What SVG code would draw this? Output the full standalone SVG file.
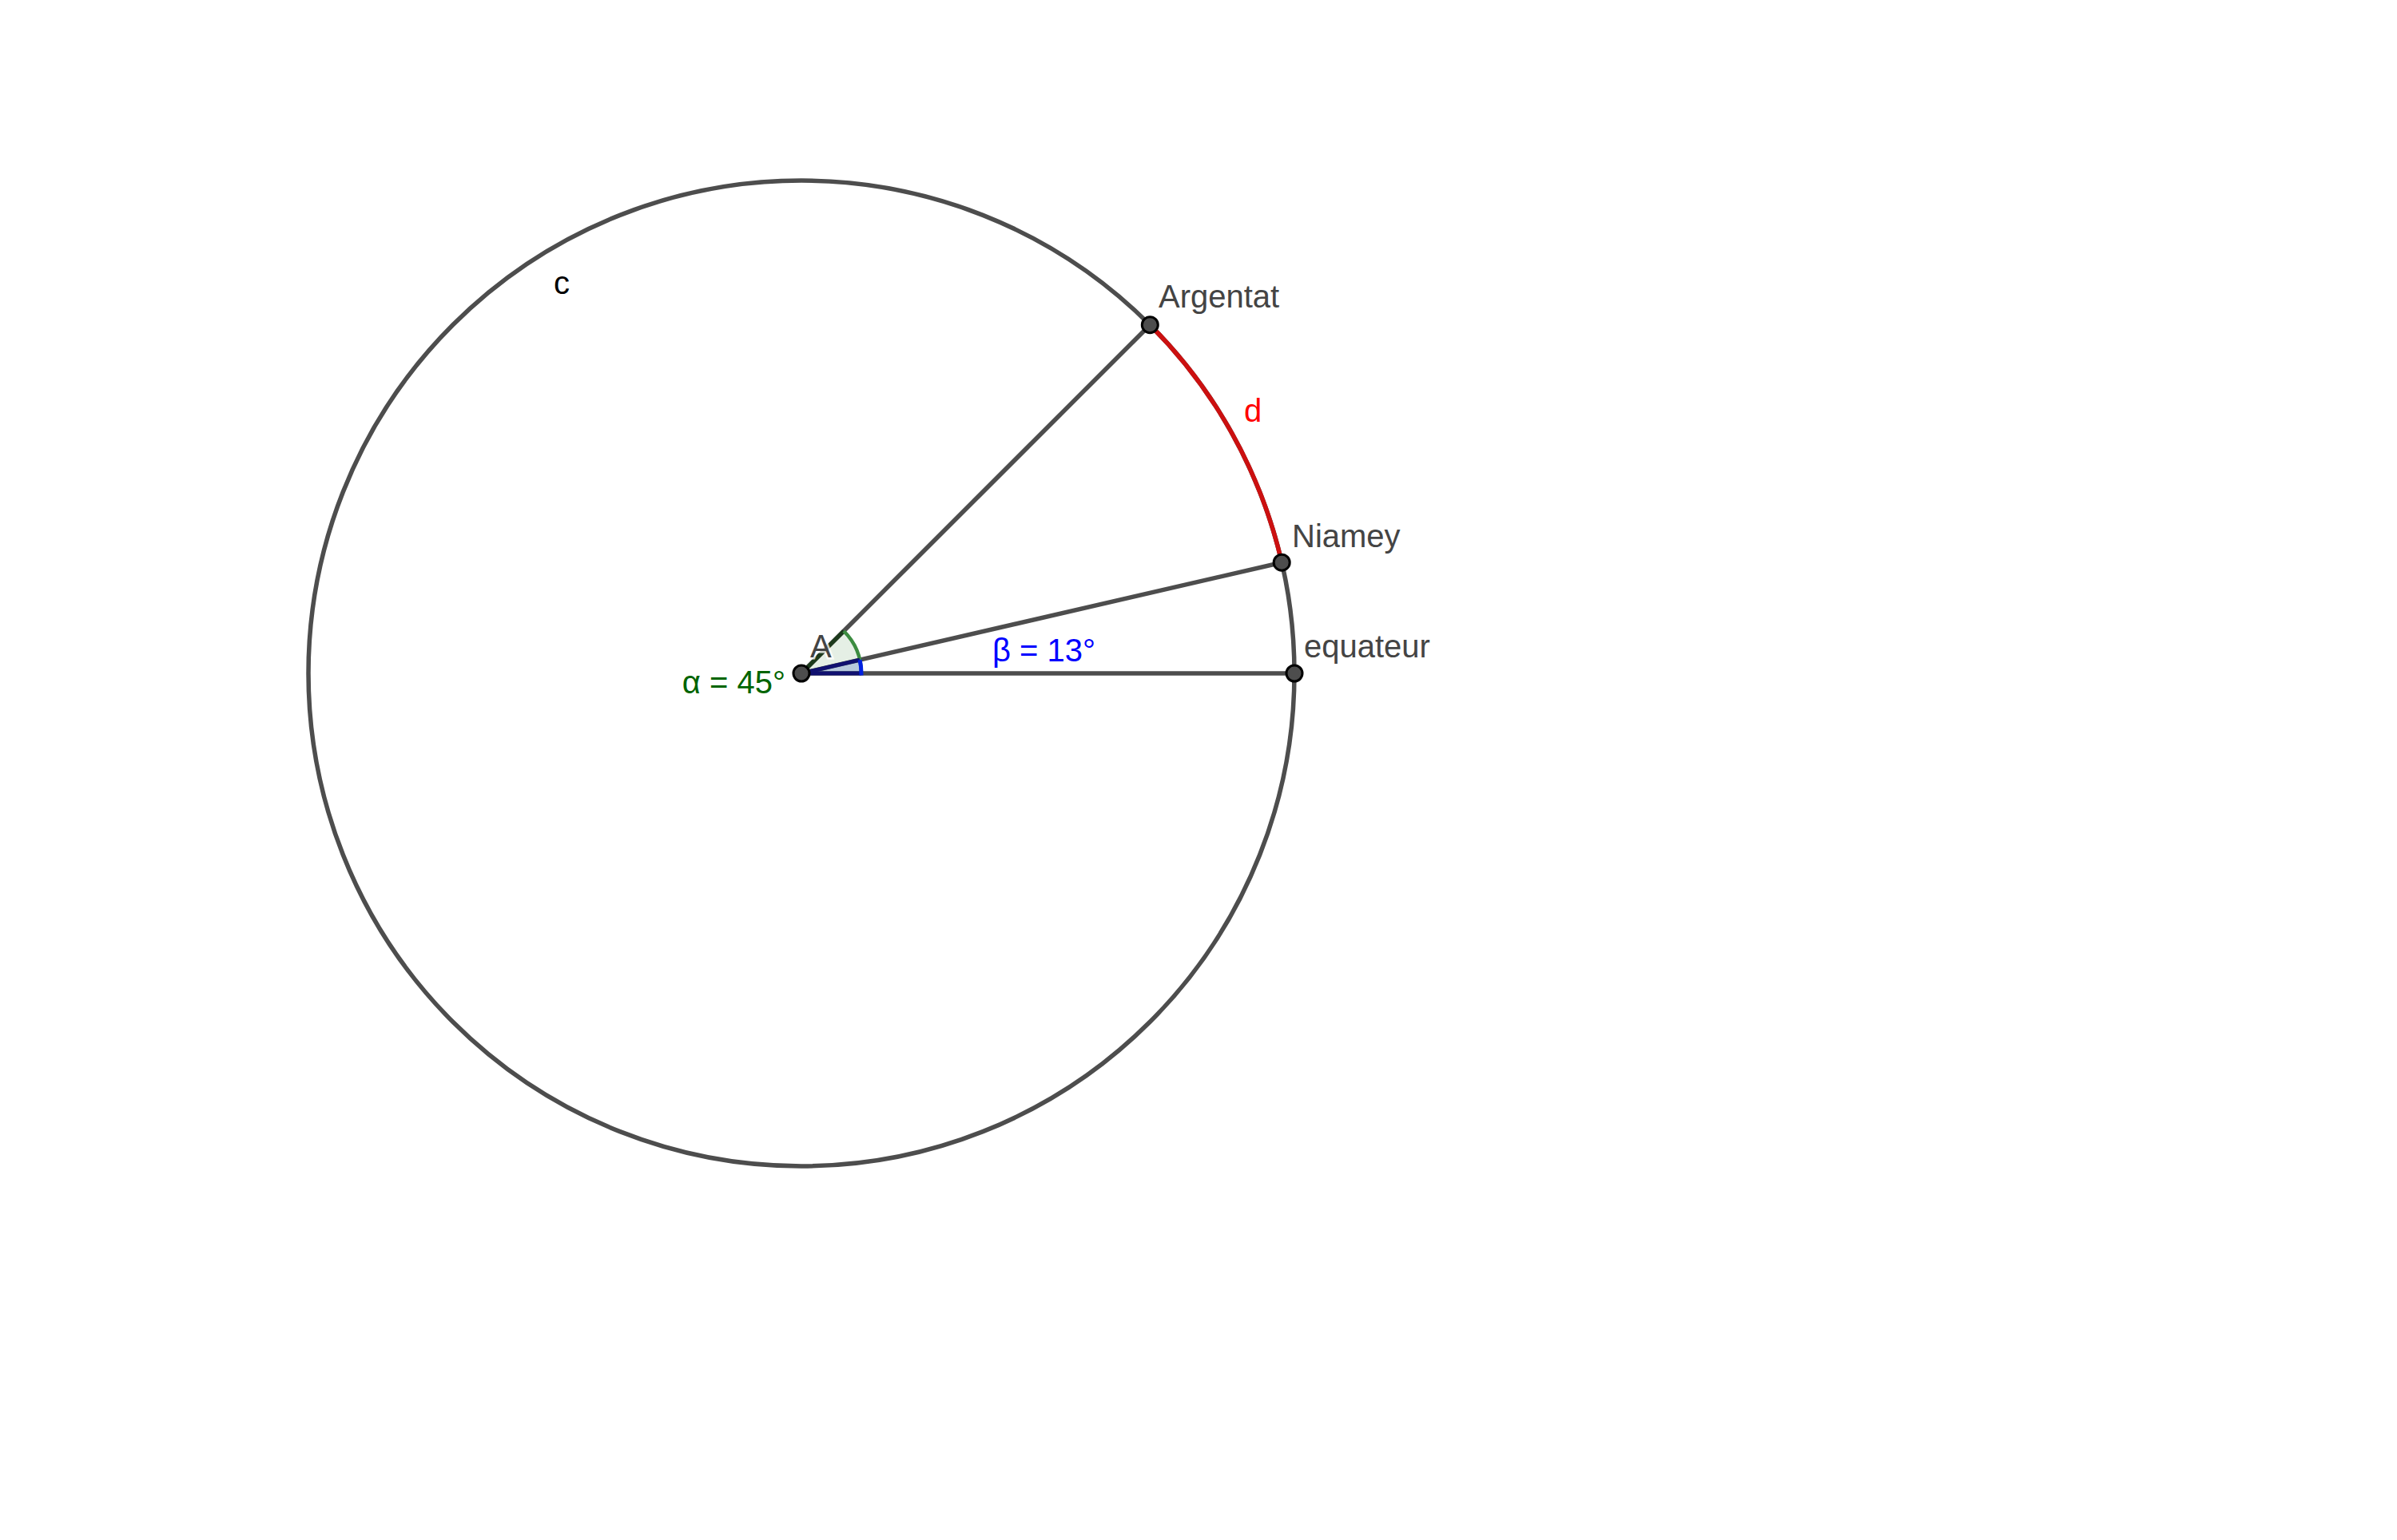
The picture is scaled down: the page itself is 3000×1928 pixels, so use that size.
<svg xmlns="http://www.w3.org/2000/svg" width="3000" height="1928" viewBox="0 0 3000 1928">
  <style>
    .ln { fill: none; stroke: #4d4d4d; stroke-width: 5.5; }
    .pt { fill: #4d4d4d; stroke: #000; stroke-width: 3; }
    .lbl { font-family: "Liberation Sans", Arial, sans-serif; font-size: 40px; fill: #444; }
  </style>
  <rect x="0" y="0" width="3000" height="1928" fill="#fff"/>

  <g id="circle-c">
    <circle class="ln" cx="1003" cy="843" r="617"/>
    <text class="lbl" x="693" y="368" style="fill:#000">c</text>
  </g>

  <g id="arc-d">
    <path d="M 1439.3 406.7 A 617 617 0 0 1 1604.2 704.2" fill="none" stroke="#cc1010" stroke-width="5.5"/>
    <text class="lbl" x="1557" y="528" style="fill:#ff0000">d</text>
  </g>

  <g id="connectors">
    <line class="ln" x1="1003" y1="843" x2="1439.3" y2="406.7"/>
    <line class="ln" x1="1003" y1="843" x2="1604.2" y2="704.2"/>
    <line class="ln" x1="1003" y1="843" x2="1620" y2="843"/>
  </g>

  <g id="angle-alpha">
    <path d="M 1003 843 L 1078 843 A 75 75 0 0 0 1056.03 789.97 Z" fill="#006400" fill-opacity="0.1" stroke="none"/>
    <line x1="1003" y1="843" x2="1056.03" y2="789.97" stroke="#1c3a1c" stroke-width="5"/>
    <path d="M 1078 843 A 75 75 0 0 0 1056.03 789.97" fill="none" stroke="#3c8c40" stroke-width="4.5"/>
    <text class="lbl" x="983" y="868" text-anchor="end" style="fill:#006400">α = 45°</text>
  </g>

  <g id="angle-beta">
    <path d="M 1003 843 L 1078 843 A 75 75 0 0 0 1076.08 826.13 Z" fill="#0030c0" fill-opacity="0.2" stroke="none"/>
    <line x1="1003" y1="843" x2="1078" y2="843" stroke="#101070" stroke-width="5"/>
    <line x1="1003" y1="843" x2="1076.08" y2="826.13" stroke="#101070" stroke-width="5"/>
    <path d="M 1078 845.5 L 1078 843 A 75 75 0 0 0 1076.08 826.13" fill="none" stroke="#0020e0" stroke-width="5"/>
    <text class="lbl" x="1242" y="828" style="fill:#0000ff">β = 13°</text>
  </g>

  <g id="point-A">
    <circle class="pt" cx="1003" cy="843" r="10"/>
    <text class="lbl" x="1014" y="823" stroke="#ffffff" stroke-width="5" stroke-opacity="0.8" paint-order="stroke">A</text>
  </g>

  <g id="point-Argentat">
    <circle class="pt" cx="1439.3" cy="406.7" r="10"/>
    <text class="lbl" x="1450" y="385">Argentat</text>
  </g>

  <g id="point-Niamey">
    <circle class="pt" cx="1604.2" cy="704.2" r="10"/>
    <text class="lbl" x="1617" y="685">Niamey</text>
  </g>

  <g id="point-equateur">
    <circle class="pt" cx="1620" cy="843" r="10"/>
    <text class="lbl" x="1632" y="823">equateur</text>
  </g>
</svg>
